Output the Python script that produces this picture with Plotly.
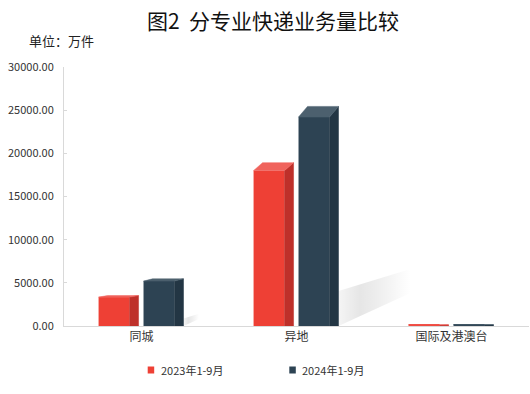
import plotly.graph_objects as go

categories = ["同城", "异地", "国际及港澳台"]
series_names = ["2023年1-9月", "2024年1-9月"]
v2023 = [3350, 18000, 130]
v2024 = [5200, 24200, 150]
y_ticks = [0, 5000, 10000, 15000, 20000, 25000, 30000]

W, H = 530, 394
L, R, T, B = 64, 1, 67, 68
PW, PH = W - L - R, H - T - B

def px_x(px):
    return (px - L) / PW

def px_y(py):
    return (H - B - py) / PH

xpos = list(range(len(categories)))
front_w = 0.2
side_dx = 0.058
persp = 0.051

series = [
    dict(name=series_names[0], vals=v2023, offset=-0.277,
         front="#EE4035", side="#BE302A", top="#F0635C", shadow=False),
    dict(name=series_names[1], vals=v2024, offset=0.013,
         front="#2D4353", side="#233644", top="#4C606E", shadow=True),
]

fig = go.Figure()

# shadows (drawn first)
for s in series:
    if not s["shadow"]:
        continue
    for x, v in zip(xpos, s["vals"]):
        xr = x + s["offset"] + front_w + side_dx
        xs = [xr, xr, xr + 1.92e-5 * v, xr + 1.92e-5 * v, xr]
        ys = [0, 0.167 * v, 0.273 * v, 0.158 * v, 0]
        fig.add_trace(go.Scatter(
            x=xs, y=ys, mode="none", fill="toself",
            fillgradient=dict(type="horizontal",
                              colorscale=[[0, "rgba(0,0,0,0.04)"],
                                          [0.3, "rgba(0,0,0,0.10)"],
                                          [0.6, "rgba(0,0,0,0.06)"],
                                          [1, "rgba(0,0,0,0)"]]),
            hoverinfo="skip", showlegend=False))

for s in series:
    fig.add_trace(go.Bar(
        x=xpos, y=s["vals"], name=s["name"], width=front_w, offset=s["offset"],
        marker=dict(color=s["front"], line=dict(width=0)), showlegend=False))
    sx, sy, tx, ty = [], [], [], []
    for x, v in zip(xpos, s["vals"]):
        xl = x + s["offset"]
        xr = xl + front_w
        dy = persp * v
        sx += [xr, xr, xr + side_dx, xr + side_dx, xr, None]
        sy += [0, v, v + dy, 0, 0, None]
        tx += [xl, xr, xr + side_dx, xl + side_dx, xl, None]
        ty += [v, v, v + dy, v + dy, v, None]
    fig.add_trace(go.Scatter(x=sx, y=sy, mode="lines", fill="toself",
                             fillcolor=s["side"], line=dict(color=s["side"], width=0.5),
                             hoverinfo="skip", showlegend=False))
    fig.add_trace(go.Scatter(x=tx, y=ty, mode="lines", fill="toself",
                             fillcolor=s["top"], line=dict(color=s["top"], width=0.5),
                             hoverinfo="skip", showlegend=False))

font = "Noto Sans CJK SC"

# manual legend
legend_items = [(147.7, 158.5, series[0]["front"], series_names[0]),
                (289.3, 300.0, series[1]["front"], series_names[1])]
shapes = []
annotations = []
for sq_x, tx_x, col, name in legend_items:
    shapes.append(dict(type="rect", xref="paper", yref="paper",
                       x0=px_x(sq_x), x1=px_x(sq_x + 6.5),
                       y0=px_y(373.5), y1=px_y(366.5),
                       fillcolor=col, line=dict(width=0)))
    annotations.append(dict(text=name, xref="paper", yref="paper",
                            x=px_x(tx_x), y=px_y(370), xanchor="left", yanchor="middle",
                            showarrow=False, font=dict(size=11, color="#333", family=font)))

annotations.append(dict(text="单位：万件", xref="paper", yref="paper",
                        x=px_x(27), y=px_y(41), xanchor="left", yanchor="middle",
                        showarrow=False, font=dict(size=13, color="#222", family=font)))

fig.update_layout(
    width=W, height=H,
    margin=dict(l=L, r=R, t=T, b=B),
    paper_bgcolor="white", plot_bgcolor="white",
    barmode="overlay",
    title=dict(text="图2  分专业快递业务量比较", x=273 / W, xanchor="center",
               y=1 - 22 / H, yanchor="middle", yref="container",
               font=dict(size=21, color="#111", family=font)),
    xaxis=dict(range=[-0.5, 2.5], tickvals=xpos, ticktext=categories,
               showline=True, linecolor="#D9D9D9", linewidth=1, showgrid=False,
               zeroline=False, ticks="", tickfont=dict(size=12, color="#333", family=font)),
    yaxis=dict(range=[0, 30000], tickvals=y_ticks,
               ticktext=[f"{t:.2f}" for t in y_ticks],
               showline=True, linecolor="#D9D9D9", linewidth=1, showgrid=False,
               zeroline=False, ticks="inside", ticklen=3, tickcolor="#D9D9D9",
               ticklabelstandoff=7,
               tickfont=dict(size=11, color="#333", family=font)),
    shapes=shapes, annotations=annotations,
    font=dict(family=font),
)

fig.write_html("out.html", config={"displayModeBar": False},
               post_script="document.body.style.margin='0';")
